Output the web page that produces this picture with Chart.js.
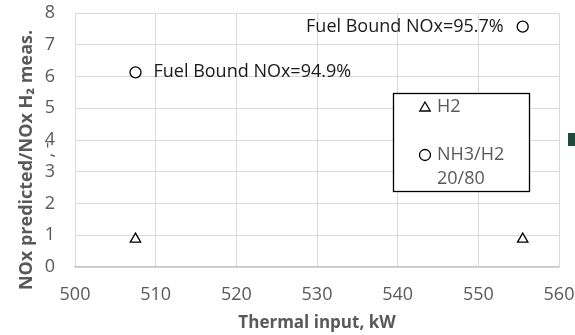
<!DOCTYPE html>
<html>
<head>
<meta charset="utf-8">
<script src="https://cdn.jsdelivr.net/npm/chart.js@4/dist/chart.umd.min.js"></script>
<style>
html,body{margin:0;padding:0;background:#fff;}
canvas{display:block;}
</style>
</head>
<body>
<canvas id="c" width="575" height="335"></canvas>
<script>
// Measured points
const thermalInput = [507.5, 555.5];
const h2Ratio = [0.88, 0.88];
const nh3Ratio = [6.13, 7.57];
const nh3Labels = ["Fuel Bound NOx=94.9%", "Fuel Bound NOx=95.7%"];

// Legend text
const h2Name = ["H2"];
const nh3Name = ["NH3/H2", "20/80"];

// Axis ticks
const xTicks = [500, 510, 520, 530, 540, 550, 560];
const yTicks = [0, 1, 2, 3, 4, 5, 6, 7, 8];

const FONT = "'Open Sans', 'DejaVu Sans', sans-serif";
const GREY = "#595959";

const toPts = (xs, ys) => xs.map((x, i) => ({ x, y: ys[i] }));

// labels next to the NH3/H2 points, title on the y axis, boxed legend
const extras = {
  id: "extras",
  afterDatasetsDraw(chart){
    const ctx = chart.ctx;
    const meta = chart.getDatasetMeta(1);
    ctx.save();
    ctx.font = "18px " + FONT;
    ctx.fillStyle = "#1a1a1a";
    ctx.textBaseline = "middle";
    meta.data.forEach((pt, i) => {
      if(i === 0){
        ctx.textAlign = "left";
        ctx.fillText(nh3Labels[i], pt.x + 18, pt.y);
      } else {
        ctx.textAlign = "right";
        ctx.fillText(nh3Labels[i], pt.x - 19, pt.y);
      }
    });
    ctx.restore();
  },
  afterDraw(chart){
    const ctx = chart.ctx;
    ctx.save();

    // y title
    ctx.fillStyle = GREY;
    ctx.textAlign = "center";
    ctx.textBaseline = "middle";
    ctx.translate(27, 160);
    ctx.rotate(-Math.PI / 2);
    ctx.font = "bold 18px " + FONT;
    ctx.fillText("NOx predicted/NOx H\u2082 meas.", 0, 0);
    ctx.restore();

    ctx.save();
    ctx.fillStyle = GREY;
    ctx.textAlign = "center";
    ctx.textBaseline = "middle";
    ctx.translate(48, 150);
    ctx.rotate(-Math.PI / 2);
    ctx.font = "18px " + FONT;
    ctx.fillText(", -", 0, 0);
    ctx.restore();

    // legend box
    ctx.save();
    ctx.fillStyle = "#fff";
    ctx.fillRect(393, 93, 136, 98);
    ctx.strokeStyle = "#000";
    ctx.lineWidth = 1.3;
    ctx.strokeRect(393.5, 93.5, 136, 98);

    const ds = chart.data.datasets;
    const mark = (d, x, y) => {
      ctx.strokeStyle = d.borderColor;
      ctx.fillStyle = d.backgroundColor;
      ctx.lineWidth = d.borderWidth;
      Chart.helpers.drawPoint(ctx, { pointStyle: d.pointStyle, radius: d.pointRadius, rotation: 0, borderWidth: d.borderWidth }, x, y);
    };
    mark(ds[0], 425, 108);
    mark(ds[1], 425, 155);

    ctx.fillStyle = GREY;
    ctx.font = "18px " + FONT;
    ctx.textAlign = "left";
    ctx.textBaseline = "middle";
    ctx.fillText(h2Name[0], 437, 107);
    nh3Name.forEach((t, i) => ctx.fillText(t, 437, 155 + i * 24));

    // edge of the next panel
    ctx.fillStyle = "#1d4a3b";
    ctx.fillRect(568, 133, 7, 13);
    ctx.restore();
  }
};

new Chart(document.getElementById("c"), {
  type: "scatter",
  data: {
    datasets: [
      {
        label: h2Name.join(" "),
        data: toPts(thermalInput, h2Ratio),
        pointStyle: "triangle",
        pointRadius: 6,
        borderColor: "#000",
        backgroundColor: "#fff",
        borderWidth: 1.3
      },
      {
        label: nh3Name.join(" "),
        data: toPts(thermalInput, nh3Ratio),
        pointStyle: "circle",
        pointRadius: 5.5,
        borderColor: "#000",
        backgroundColor: "#fff",
        borderWidth: 1.3
      }
    ]
  },
  options: {
    responsive: false,
    animation: false,
    devicePixelRatio: 1,
    layout: { padding: { top: 13, right: 16, left: 0, bottom: 0 } },
    plugins: {
      legend: { display: false },
      tooltip: { enabled: false }
    },
    scales: {
      x: {
        type: "linear",
        min: xTicks[0],
        max: xTicks[xTicks.length - 1],
        afterFit: (s) => { s.height = 68; s.paddingLeft = 0; s.paddingRight = 0; },
        afterBuildTicks: (s) => { s.ticks = xTicks.map(v => ({ value: v })); },
        grid: { color: "#d9d9d9", lineWidth: 1, drawTicks: false },
        border: { color: "#c8c8c8", width: 1.3 },
        ticks: { color: GREY, font: { family: FONT, size: 18 }, padding: 17, maxRotation: 0 },
        title: {
          display: true,
          text: "Thermal input, kW",
          color: GREY,
          font: { family: FONT, size: 17, weight: "bold" },
          padding: { top: 0, bottom: 2 }
        }
      },
      y: {
        type: "linear",
        min: yTicks[0],
        max: yTicks[yTicks.length - 1],
        afterFit: (s) => { s.width = 75; s.paddingTop = 0; s.paddingBottom = 0; },
        afterBuildTicks: (s) => { s.ticks = yTicks.map(v => ({ value: v })); },
        grid: { color: "#d9d9d9", lineWidth: 1, drawTicks: false },
        border: { display: false },
        ticks: { color: GREY, font: { family: FONT, size: 18 }, padding: 20 }
      }
    }
  },
  plugins: [extras]
});
</script>
</body>
</html>
